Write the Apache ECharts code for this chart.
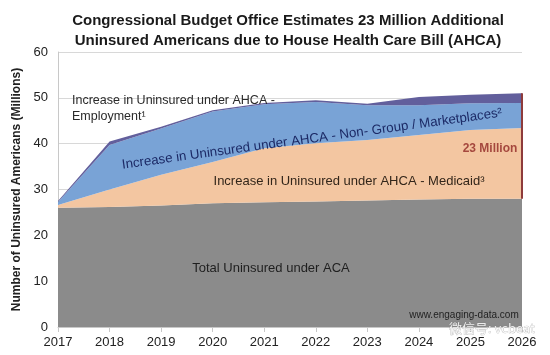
<!DOCTYPE html>
<html>
<head>
<meta charset="utf-8">
<script src="https://cdn.jsdelivr.net/npm/echarts@6/dist/echarts.min.js"></script>
<style>
  html, body { margin: 0; padding: 0; background: #fff; }
  #chart { width: 550px; height: 355px; }
</style>
</head>
<body>
<div id="chart"></div>
<script>
const years = ['2017', '2018', '2019', '2020', '2021', '2022', '2023', '2024', '2025', '2026']
const yTicks = [0, 10, 20, 30, 40, 50, 60]

// millions, stacked from bottom
const acaBase = [26, 26.2, 26.5, 27, 27.2, 27.4, 27.6, 27.8, 28, 28]
const medicaid = [0.6, 3.8, 6.7, 9, 11.8, 12.7, 13.2, 14.1, 15, 15.4]
const nonGroup = [0.7, 9.7, 10.1, 11, 9.6, 9, 7.6, 6.5, 5.8, 5.5]
const employment = [0.2, 0.8, 0.4, 0.3, 0.3, 0.4, 0.3, 1.8, 1.9, 2.1]

const font = 'Liberation Sans, Arial, sans-serif'
const chart = echarts.init(document.getElementById('chart'))

const last = years.length - 1
const totalLast = acaBase[last] + medicaid[last] + nonGroup[last] + employment[last]

function area(name, data, color) {
  return {
    name: name,
    type: 'line',
    stack: 'total',
    data: data,
    showSymbol: false,
    symbol: 'none',
    lineStyle: { width: 0 },
    areaStyle: { color: color, opacity: 1 },
    emphasis: { disabled: true }
  }
}

const series = [
  area('Total Uninsured under ACA', acaBase, '#8b8b8b'),
  area('Medicaid', medicaid, '#f3c6a1'),
  area('Non-Group', nonGroup, '#79a3d6'),
  area('Employment', employment, '#625f9c')
]

// 23 million bracket at the last year
series[0].markLine = {
  silent: true,
  symbol: ['none', 'none'],
  label: { show: false },
  lineStyle: { color: '#8e3b3b', width: 2, type: 'solid' },
  data: [[
    { coord: [years[last], acaBase[last]] },
    { coord: [years[last], totalLast] }
  ]]
}

function label(x, y, text, style, extra) {
  return Object.assign({
    type: 'text', x: x, y: y, z: 100,
    style: Object.assign({
      text: text, fontSize: 13, align: 'center', verticalAlign: 'middle', fontFamily: font
    }, style)
  }, extra || {})
}

chart.setOption({
  animation: false,
  textStyle: { fontFamily: font },
  title: {
    text: 'Congressional Budget Office Estimates 23 Million Additional\nUninsured Americans due to House Health Care Bill (AHCA)',
    left: 283,
    textAlign: 'center',
    top: 6,
    textStyle: { fontSize: 15, fontWeight: 'bold', color: '#1a1a1a', lineHeight: 20, fontFamily: font }
  },
  grid: { left: 58, right: 28, top: 52, bottom: 28 },
  xAxis: {
    type: 'category',
    data: years,
    boundaryGap: false,
    axisLine: { lineStyle: { color: '#c8c8c8' } },
    axisTick: { show: true, alignWithLabel: true, lineStyle: { color: '#c8c8c8' } },
    axisLabel: { color: '#222', fontSize: 13, margin: 9, fontFamily: font },
    splitLine: { show: false }
  },
  yAxis: {
    type: 'value',
    min: yTicks[0],
    max: yTicks[yTicks.length - 1],
    interval: 10,
    name: 'Number of Uninsured Americans (Millions)',
    nameLocation: 'middle',
    nameGap: 35,
    nameTextStyle: { fontSize: 12, fontWeight: 'bold', color: '#222', fontFamily: font },
    axisLine: { show: true, lineStyle: { color: '#c8c8c8' } },
    axisTick: { show: false },
    axisLabel: { color: '#222', fontSize: 13, margin: 10, fontFamily: font },
    splitLine: { lineStyle: { color: '#d8d8d8' } }
  },
  series: series,
  graphic: [
    label(72, 93, 'Increase in Uninsured under AHCA -\nEmployment¹',
      { fontSize: 12.5, lineHeight: 16, fill: '#2a2a2a', align: 'left', verticalAlign: 'top' }),
    label(312, 139, 'Increase in Uninsured under AHCA - Non- Group / Marketplaces²',
      { fontSize: 13.3, fill: '#1c2a66' }, { rotation: 7.8 * Math.PI / 180 }),
    label(490, 149, '23 Million', { fontSize: 12, fontWeight: 'bold', fill: '#a5483e' }),
    label(349, 181, 'Increase in Uninsured under AHCA - Medicaid³', { fill: '#33261a' }),
    label(271, 268, 'Total Uninsured under ACA', { fill: '#1f1f1f' }),
    label(464, 315, 'www.engaging-data.com', { fontSize: 10, fill: '#1f1f1f' }),
    label(492, 328, '微信号: vcbeat', {
      fill: 'rgba(255,255,255,0.85)', stroke: 'rgba(120,120,120,0.6)', lineWidth: 0.6,
      fontFamily: 'Noto Sans CJK SC, sans-serif'
    })
  ]
})
</script>
</body>
</html>
